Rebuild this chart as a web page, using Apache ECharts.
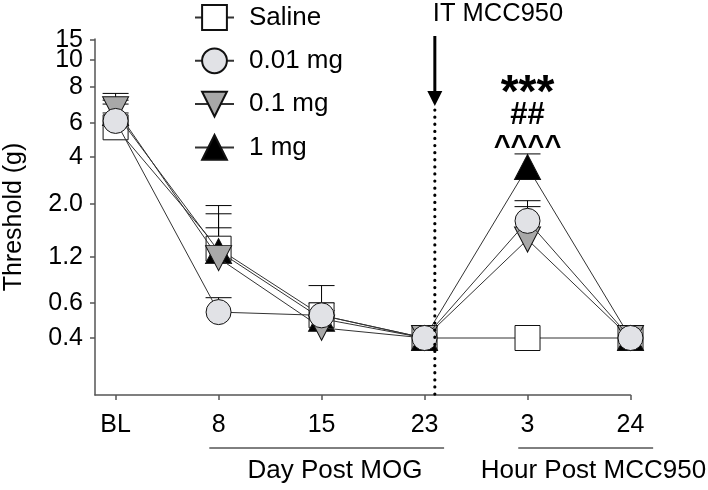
<!DOCTYPE html>
<html><head><meta charset="utf-8">
<script src="https://cdn.jsdelivr.net/npm/echarts@6/dist/echarts.min.js"></script>
<style>html,body{margin:0;padding:0;background:#fff}#c{width:708px;height:490px}</style>
</head><body><div id="c"></div>
<script>
// ---- data ----
const categories = ['BL', '8', '15', '23', '3', '24'];
const seriesNames = ['Saline', '0.01 mg', '0.1 mg', '1 mg'];
const saline   = [5.7, 1.30, 0.52, 0.4, 0.40, 0.4];
const mg001    = [6.1, 0.54, 0.52, 0.4, 1.70, 0.4];
const mg01     = [6.7, 1.18, 0.45, 0.4, 1.42, 0.4];
const mg1      = [6.5, 1.27, 0.50, 0.4, 3.45, 0.4];
// upper end of the error bars
const salineHi = [6.98, 1.82, 0.60, 0.4, 0.40, 0.4];
const mg001Hi  = [6.50, 0.65, 0.78, 0.4, 2.10, 0.4];
const mg01Hi   = [7.60, 1.59, 0.50, 0.4, 1.95, 0.4];
const mg1Hi    = [7.20, 1.97, 0.55, 0.4, 4.15, 0.4];
// y axis ticks (the axis is an uneven, log-like scale)
const yTickValues = [0.4, 0.6, 1.2, 2.0, 4, 6, 8, 10, 15];
const yTickLabels = ['0.4', '0.6', '1.2', '2.0', '4', '6', '8', '10', '15'];
const yScaleStops = [57, 92, 138, 191, 238, 272, 308, 335, 355];
const annotStats = ['***', '##', '^^^^'];

// ---- scale helpers ----
function toLevel(v) {
  const L = Math.log10(v);
  let i = 0;
  while (i < yTickValues.length - 2 && L > Math.log10(yTickValues[i + 1])) i++;
  const l0 = Math.log10(yTickValues[i]), l1 = Math.log10(yTickValues[i + 1]);
  return yScaleStops[i] + (L - l0) / (l1 - l0) * (yScaleStops[i + 1] - yScaleStops[i]);
}
const yTickLevels = yTickValues.map(toLevel);
const Y_MAX = 356;
// an empty end-of-axis entry so that the library's min/max overlap rule never hides "10" or "15"
const yAxisMarks = yTickLevels.concat([Y_MAX]);
function yLabel(u) {
  if (u > yTickLevels[yTickLevels.length - 1] + 0.5) return '';
  let best = 0;
  yTickLevels.forEach((t, i) => { if (Math.abs(t - u) < Math.abs(yTickLevels[best] - u)) best = i; });
  return yTickLabels[best];
}
const FONT = "'Liberation Sans', Arial, Helvetica, sans-serif";

function lineData(arr) { return arr.map((v, i) => [i, toLevel(v)]); }
function errData(arr, hi) { return arr.map((v, i) => [i, toLevel(v), toLevel(hi[i])]); }

const chart = echarts.init(document.getElementById('c'), null, { renderer: 'canvas' });

function errSeries(name, arr, hi) {
  return {
    type: 'custom', name: name + ' err', z: 1, silent: true,
    data: errData(arr, hi),
    renderItem(params, api) {
      const x = api.value(0);
      const p1 = api.coord([x, api.value(1)]);
      const p2 = api.coord([x, api.value(2)]);
      if (Math.abs(p1[1] - p2[1]) < 0.5) return null;
      const hw = 13;
      return { type: 'group', children: [
        { type: 'line', shape: { x1: p1[0], y1: p1[1], x2: p2[0], y2: p2[1] }, style: { stroke: '#000', lineWidth: 1 } },
        { type: 'line', shape: { x1: p2[0] - hw, y1: p2[1], x2: p2[0] + hw, y2: p2[1] }, style: { stroke: '#000', lineWidth: 1 } }
      ]};
    }
  };
}
function lineSeries(name, arr, symbol, size, fill, rot, z) {
  return {
    type: 'line', name, data: lineData(arr), z,
    symbol, symbolSize: size, symbolRotate: rot,
    lineStyle: { color: '#333', width: 1 },
    itemStyle: { color: fill, borderColor: '#111', borderWidth: 1, opacity: 1 },
    emphasis: { disabled: true }
  };
}

const option = {
  animation: false,
  backgroundColor: '#fff',
  textStyle: { fontFamily: FONT },
  grid: { left: 95, right: 77.5, top: 39, bottom: 95, containLabel: false, outerBoundsMode: 'none' },
  legend: {
    data: seriesNames, orient: 'vertical', left: 189, top: -3,
    itemWidth: 39, itemHeight: 31, itemGap: 12.3, selectedMode: false,
    textStyle: { fontSize: 26, color: '#000', fontFamily: FONT, lineHeight: 31, padding: [0, 0, 0, 10] }
  },
  xAxis: {
    type: 'value', min: -0.2, max: 5,
    axisLine: { onZero: false, lineStyle: { color: '#555', width: 1.5 } },
    axisTick: { customValues: [0, 1, 2, 3, 4, 5], length: 5, lineStyle: { color: '#555', width: 1.5 } },
    axisLabel: { customValues: [0, 1, 2, 3, 4, 5], formatter: v => categories[Math.round(v)], fontSize: 25, color: '#000', margin: 18, fontFamily: FONT },
    splitLine: { show: false }
  },
  yAxis: {
    type: 'value', min: 0, max: Y_MAX,
    name: 'Threshold (g)', nameLocation: 'middle', nameRotate: 90, nameGap: 68,
    nameTextStyle: { fontSize: 25, color: '#000', fontFamily: FONT },
    axisLine: { show: true, onZero: false, lineStyle: { color: '#555', width: 1.5 } },
    axisTick: { show: true, customValues: yAxisMarks, length: 5, lineStyle: { color: '#555', width: 1.5 } },
    axisLabel: { customValues: yAxisMarks, formatter: v => yLabel(v), fontSize: 25, color: '#000', margin: 12,
      fontFamily: FONT, hideOverlap: false, showMaxLabel: false, showMinLabel: true },
    splitLine: { show: false }
  },
  series: [
    errSeries('Saline', saline, salineHi),
    errSeries('1 mg', mg1, mg1Hi),
    errSeries('0.1 mg', mg01, mg01Hi),
    errSeries('0.01 mg', mg001, mg001Hi),
    lineSeries('Saline', saline, 'rect', 25, '#ffffff', 0, 2),
    lineSeries('1 mg', mg1, 'triangle', [26, 25], '#000000', 0, 3),
    lineSeries('0.1 mg', mg01, 'triangle', [26, 25], '#a8a8a8', 180, 4),
    lineSeries('0.01 mg', mg001, 'circle', 25, '#e1e2e6', 0, 5)
  ]
};
chart.setOption(option);

// annotations placed through the axis scales
const px = x => chart.convertToPixel({ gridIndex: 0 }, [x, 0])[0];
const xIT = px(3.1);
const xStat = px(4);
const g = [];
g.push({ type: 'line', shape: { x1: xIT, y1: 110, x2: xIT, y2: 399 },
  style: { stroke: '#000', lineWidth: 3.2, lineDash: [0.1, 7], lineCap: 'round' }, z: 10 });
g.push({ type: 'rect', shape: { x: xIT - 1.5, y: 36, width: 3, height: 58 }, style: { fill: '#000' }, z: 10 });
g.push({ type: 'polygon', shape: { points: [[xIT - 7.5, 91], [xIT + 7.5, 91], [xIT, 106]] }, style: { fill: '#000' }, z: 10 });
g.push({ type: 'text', x: xIT - 2, y: 14, style: { text: 'IT MCC950', fontSize: 25.5, fontFamily: FONT, fill: '#000', align: 'left', verticalAlign: 'middle' }, z: 10 });
g.push({ type: 'text', x: xStat, y: 94, style: { text: annotStats[0], fontSize: 46, fontWeight: 'bold', fontFamily: FONT, fill: '#000', align: 'center', verticalAlign: 'middle' }, z: 10 });
g.push({ type: 'text', x: xStat, y: 115, style: { text: annotStats[1], fontSize: 31, fontWeight: 'bold', fontFamily: FONT, fill: '#000', align: 'center', verticalAlign: 'middle' }, z: 10 });
g.push({ type: 'text', x: xStat, y: 147, style: { text: annotStats[2], fontSize: 29, fontWeight: 'bold', fontFamily: FONT, fill: '#000', align: 'center', verticalAlign: 'middle' }, z: 10 });
// x axis group titles
g.push({ type: 'line', shape: { x1: px(0.91), y1: 448, x2: px(3.19), y2: 448 }, style: { stroke: '#000', lineWidth: 1 } });
g.push({ type: 'line', shape: { x1: px(3.91), y1: 448, x2: px(5.22), y2: 448 }, style: { stroke: '#000', lineWidth: 1 } });
g.push({ type: 'text', x: px(2.13), y: 471, style: { text: 'Day Post MOG', fontSize: 26, fontFamily: FONT, fill: '#000', align: 'center', verticalAlign: 'middle' } });
g.push({ type: 'text', x: px(4.64), y: 471, style: { text: 'Hour Post MCC950', fontSize: 26, fontFamily: FONT, fill: '#000', align: 'center', verticalAlign: 'middle' } });
chart.setOption({ graphic: g });
</script>
</body></html>
